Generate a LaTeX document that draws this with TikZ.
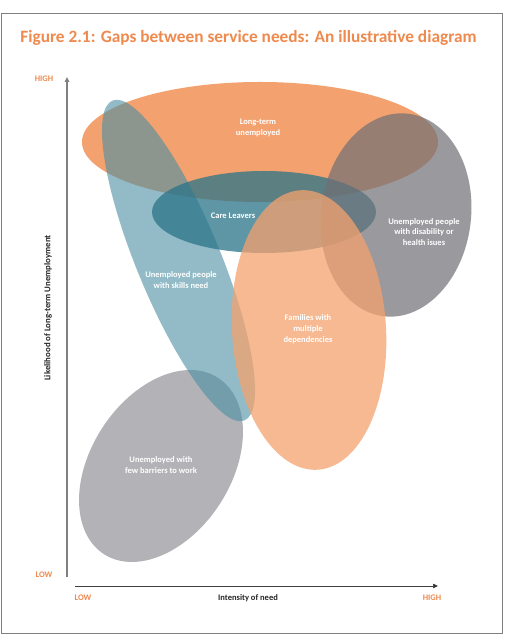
\documentclass[tikz,border=0pt]{standalone}
\usepackage{fontspec}
\setmainfont{Carlito}
\usetikzlibrary{arrows.meta}
\definecolor{titleorange}{HTML}{EE8A4E}
\definecolor{ltorange}{HTML}{F08A4B}
\definecolor{famorange}{HTML}{F4A26E}
\definecolor{disgray}{HTML}{707075}
\definecolor{fewgray}{HTML}{9A9A9F}
\definecolor{skillteal}{HTML}{4A8FA3}
\definecolor{careteal}{HTML}{2A7489}
\tikzset{
  inlabel/.style={text=white, font=\bfseries\fontsize{8.5}{10.7}\selectfont, align=center, inner sep=0pt},
  axlabel/.style={text=titleorange, font=\bfseries\fontsize{8.5}{10}\selectfont, inner sep=0pt},
  axtitle/.style={text=black!85, font=\bfseries\fontsize{8.5}{10}\selectfont, inner sep=0pt},
  tip/.style={-{Triangle[length=5pt,width=4.5pt,fill=black!85]}}
}
\begin{document}
\begin{tikzpicture}[x=1pt,y=1pt]
\useasboundingbox (0,0) rectangle (504,639);
\fill[white] (0,0) rectangle (504,639);
\draw[black!50, line width=1pt] (1.5,5) rectangle (502,625.5);
\node[text=titleorange, font=\bfseries\fontsize{17.3}{20}\selectfont, inner sep=0pt] (title) at (248.5,601) {Figure 2.1: Gaps between service needs: An illustrative diagram};

% ellipses
\fill[fewgray, opacity=0.75, rotate around={57:(161,173)}] (161,173) ellipse [x radius=105, y radius=70];
\fill[ltorange, opacity=0.8] (260,497) ellipse [x radius=178, y radius=60];
\fill[skillteal, opacity=0.6, rotate around={-67.6:(178.5,378.5)}] (178.5,378.5) ellipse [x radius=173, y radius=42];
\fill[careteal, opacity=0.75] (264,427) ellipse [x radius=112, y radius=41];
\fill[disgray, opacity=0.7, rotate around={-7:(396,424)}] (396,424) ellipse [x radius=75, y radius=102];
\fill[famorange, opacity=0.75, rotate around={3.5:(309,309)}] (309,309) ellipse [x radius=77, y radius=140];

% labels
\node[inlabel] (lt) at (258,511) {Long-term\\unemployed};
\node[inlabel] (care) at (233,423) {Care Leavers};
\node[inlabel] (dis) at (424,407) {Unemployed people\\with disability or\\health isues};
\node[inlabel] (skill) at (181,359) {Unemployed people\\with skills need};
\node[inlabel] (fam) at (308,310) {Families with\\multiple\\dependencies};
\node[inlabel] (few) at (161,174) {Unemployed with\\few barriers to work};

% axes
\coordinate (yb) at (67,62);
\coordinate (yt) at (67,562);
\coordinate (xl) at (75,53);
\coordinate (xr) at (438,53);
\draw[black!50, line width=1.4pt, tip] (yb) -- (yt);
\draw[black!75, line width=0.7pt, tip] (xl) -- (xr);
\node[axlabel] (yhigh) at (44,560) {HIGH};
\node[axlabel] (ylow) at (44,64) {LOW};
\node[axlabel] (xlow) at (83,41) {LOW};
\node[axlabel] (xhigh) at (432,41) {HIGH};
\node[axtitle] (xt) at (248,41) {Intensity of need};
\node[axtitle, font=\bfseries\fontsize{8.8}{10.5}\selectfont, rotate=90] (yt2) at (48,331) {Likelihood of Long-term Unemployment};
\end{tikzpicture}
\end{document}
